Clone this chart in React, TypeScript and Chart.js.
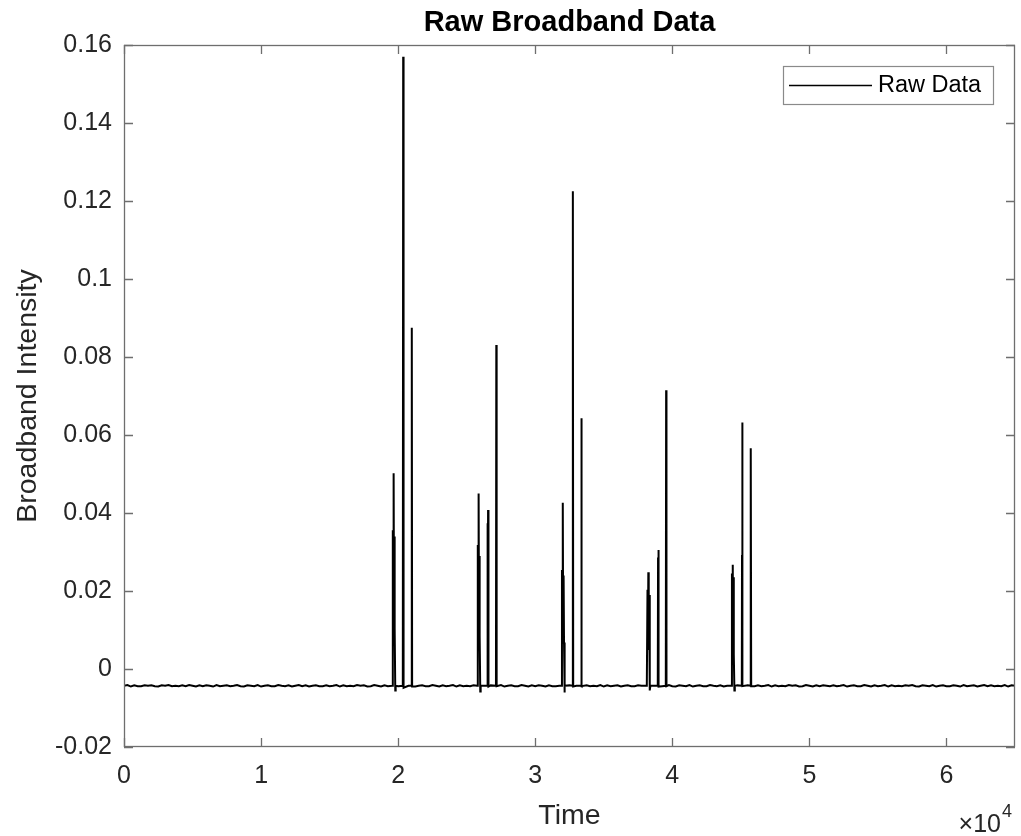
import React, { useEffect, useRef } from "react";
import { Chart, registerables } from "chart.js";

Chart.register(...registerables);

// ---- Data ----
const seriesLabel = "Raw Data";
const chartTitle = "Raw Broadband Data";
const xAxisTitle = "Time";
const yAxisTitle = "Broadband Intensity";

// baseline samples every 250 time units, from 0 to 65000
const baselineStep = 250;
const baselineValues = [
  -0.0043, -0.0041, -0.0045, -0.0042, -0.0044, -0.0044, -0.0042, -0.0043, -0.0042, -0.0044,
  -0.0045, -0.0042, -0.0043, -0.0041, -0.0044, -0.0043, -0.0044, -0.0042, -0.0044, -0.0041,
  -0.0043, -0.0045, -0.0042, -0.0044, -0.0042, -0.0043, -0.0045, -0.0041, -0.0044, -0.0043,
  -0.0042, -0.0044, -0.0043, -0.0041, -0.0044, -0.0045, -0.0042, -0.0043, -0.0044, -0.0041,
  -0.0045, -0.0043, -0.0042, -0.0044, -0.0044, -0.0041, -0.0043, -0.0044, -0.0042, -0.0045,
  -0.0043, -0.0041, -0.0044, -0.0042, -0.0045, -0.0043, -0.0042, -0.0044, -0.0044, -0.0042,
  -0.0044, -0.0043, -0.0041, -0.0045, -0.0042, -0.0044, -0.0043, -0.0044, -0.0041, -0.0043,
  -0.0042, -0.0045, -0.0044, -0.0041, -0.0043, -0.0045, -0.0042, -0.0044, -0.0042, -0.0043,
  -0.0044, -0.0042, -0.0044, -0.0043, -0.0041, -0.0045, -0.0043, -0.0042, -0.0044, -0.0044,
  -0.0041, -0.0043, -0.0045, -0.0042, -0.0044, -0.0043, -0.0041, -0.0045, -0.0042, -0.0044,
  -0.0043, -0.0044, -0.0042, -0.0044, -0.0041, -0.0043, -0.0045, -0.0042, -0.0043, -0.0044,
  -0.0041, -0.0045, -0.0043, -0.0042, -0.0044, -0.0044, -0.0041, -0.0043, -0.0045, -0.0042,
  -0.0044, -0.0042, -0.0043, -0.0045, -0.0042, -0.0044, -0.0044, -0.0043, -0.0041, -0.0044,
  -0.0042, -0.0045, -0.0043, -0.0041, -0.0044, -0.0042, -0.0044, -0.0043, -0.0044, -0.0041,
  -0.0045, -0.0042, -0.0044, -0.0043, -0.0042, -0.0045, -0.0043, -0.0042, -0.0044, -0.0044,
  -0.0042, -0.0043, -0.0045, -0.0041, -0.0044, -0.0043, -0.0042, -0.0044, -0.0043, -0.0041,
  -0.0044, -0.0045, -0.0042, -0.0043, -0.0044, -0.0041, -0.0045, -0.0043, -0.0042, -0.0044,
  -0.0044, -0.0041, -0.0043, -0.0044, -0.0042, -0.0045, -0.0043, -0.0041, -0.0044, -0.0042,
  -0.0045, -0.0043, -0.0042, -0.0044, -0.0044, -0.0042, -0.0044, -0.0043, -0.0041, -0.0045,
  -0.0042, -0.0044, -0.0043, -0.0044, -0.0041, -0.0043, -0.0042, -0.0045, -0.0044, -0.0041,
  -0.0043, -0.0045, -0.0042, -0.0044, -0.0042, -0.0043, -0.0044, -0.0042, -0.0044, -0.0043,
  -0.0041, -0.0045, -0.0043, -0.0042, -0.0044, -0.0044, -0.0041, -0.0043, -0.0045, -0.0042,
  -0.0044, -0.0043, -0.0041, -0.0045, -0.0042, -0.0044, -0.0043, -0.0044, -0.0042, -0.0043,
  -0.0041, -0.0044, -0.0045, -0.0042, -0.0043, -0.0044, -0.0041, -0.0045, -0.0043, -0.0042,
  -0.0044, -0.0044, -0.0042, -0.0043, -0.0045, -0.0041, -0.0044, -0.0043, -0.0042, -0.0045,
  -0.0043, -0.0041, -0.0044, -0.0042, -0.0044, -0.0043, -0.0044, -0.0041, -0.0045, -0.0042,
  -0.0043,
];

// spike samples (time, intensity)
const spikeTimes = [
  // cluster 1
  19560, 19610, 19640, 19670, 19700, 19730, 19760, 19790, 19820,
  20340, 20367, 20395,
  20970, 20995, 21020,
  // cluster 2
  25760, 25810, 25840, 25870, 25900, 25930, 25960, 25990, 26020,
  26490, 26520, 26535, 26560, 26590,
  27135, 27160, 27185,
  // cluster 3
  31900, 31950, 31980, 32010, 32040, 32070, 32100, 32130, 32160,
  32720, 32745, 32770,
  33340, 33360, 33375, 33400,
  // cluster 4
  38140, 38190, 38220, 38250, 38280, 38310, 38340, 38370, 38400,
  38940, 38960, 38985, 39010,
  39525, 39550, 39575,
  // cluster 5
  44300, 44350, 44380, 44410, 44440, 44470, 44500, 44530, 44560,
  45070, 45085, 45100, 45125,
  45700, 45715, 45730, 45755,
];
const spikeValues = [
  // cluster 1
  -0.0043, 0.0356, 0.0100, 0.0502, 0.0110, 0.0340, 0.0105, -0.0055, -0.0043,
  -0.0043, 0.1570, -0.0048,
  -0.0043, 0.0875, -0.0045,
  // cluster 2
  -0.0043, 0.0318, 0.0083, 0.0450, 0.0090, 0.0290, 0.0085, -0.0058, -0.0043,
  -0.0043, 0.0374, -0.0040, 0.0408, -0.0045,
  -0.0043, 0.0831, -0.0044,
  // cluster 3
  -0.0043, 0.0254, 0.0067, 0.0426, 0.0070, 0.0240, 0.0068, -0.0060, -0.0043,
  -0.0043, 0.1225, -0.0045,
  -0.0043, 0.0505, 0.0643, -0.0044,
  // cluster 4
  -0.0043, 0.0203, 0.0049, 0.0248, 0.0060, 0.0190, 0.0052, -0.0055, -0.0043,
  -0.0043, 0.0286, 0.0305, -0.0045,
  -0.0043, 0.0715, -0.0044,
  // cluster 5
  -0.0043, 0.0245, 0.0036, 0.0267, 0.0040, 0.0235, 0.0038, -0.0055, -0.0043,
  -0.0043, 0.0292, 0.0632, -0.0044,
  -0.0043, 0.0203, 0.0566, -0.0044,
];

const xMin = 0;
const xMax = 65000;
const yMin = -0.02;
const yMax = 0.16;
const xTickValues = [0, 10000, 20000, 30000, 40000, 50000, 60000];
const yTickValues = [-0.02, 0, 0.02, 0.04, 0.06, 0.08, 0.1, 0.12, 0.14, 0.16];
const xExponentBase = "\u00d710";
const xExponent = "4";
const xScaleFactor = 10000;

const FONT = '"Liberation Sans", Arial, Helvetica, sans-serif';
const TEXT_COLOR = "#262626";
const AXIS_COLOR = "#6e6e6e";

function buildPoints() {
  const spikePts = spikeTimes.map((t, i) => ({ x: t, y: spikeValues[i] }));
  const basePts = baselineValues
    .map((v, i) => ({ x: i * baselineStep, y: v }))
    .filter((p) => !spikeTimes.some((t) => Math.abs(t - p.x) < 150));
  return [...basePts, ...spikePts].sort((a, b) => a.x - b.x);
}

const matlabDecor = {
  id: "matlabDecor",
  afterDraw(chart: any) {
    const ctx = chart.ctx;
    const area = chart.chartArea;
    const xs = chart.scales.x;
    const ys = chart.scales.y;
    const tickLen = 9;
    ctx.save();

    // box
    ctx.strokeStyle = AXIS_COLOR;
    ctx.lineWidth = 1.3;
    ctx.strokeRect(area.left + 0.5, area.top + 0.5, area.right - area.left - 1, area.bottom - area.top - 1);

    // inward ticks
    ctx.beginPath();
    xs.ticks.forEach((t: any) => {
      const px = Math.round(xs.getPixelForValue(t.value)) + 0.5;
      ctx.moveTo(px, area.bottom);
      ctx.lineTo(px, area.bottom - tickLen);
      ctx.moveTo(px, area.top);
      ctx.lineTo(px, area.top + tickLen);
    });
    ys.ticks.forEach((t: any) => {
      const py = Math.round(ys.getPixelForValue(t.value)) + 0.5;
      ctx.moveTo(area.left, py);
      ctx.lineTo(area.left + tickLen, py);
      ctx.moveTo(area.right, py);
      ctx.lineTo(area.right - tickLen, py);
    });
    ctx.stroke();

    // title
    const cx = (area.left + area.right) / 2;
    ctx.fillStyle = "#000";
    ctx.font = `bold 29px ${FONT}`;
    ctx.textAlign = "center";
    ctx.textBaseline = "middle";
    ctx.fillText(chartTitle, cx, 23);

    // axis titles
    ctx.fillStyle = TEXT_COLOR;
    ctx.font = `28.5px ${FONT}`;
    ctx.fillText(xAxisTitle, cx, 816);
    ctx.save();
    ctx.translate(28, (area.top + area.bottom) / 2);
    ctx.rotate(-Math.PI / 2);
    ctx.fillText(yAxisTitle, 0, 0);
    ctx.restore();

    // exponent label
    ctx.font = `25px ${FONT}`;
    ctx.textAlign = "right";
    ctx.textBaseline = "alphabetic";
    ctx.fillText(xExponentBase, 1001, 832);
    ctx.font = `18px ${FONT}`;
    ctx.textAlign = "left";
    ctx.fillText(xExponent, 1002, 817);

    // legend
    const lw = 210;
    const lh = 38;
    const lx = area.right - 22 - lw;
    const ly = area.top + 21;
    ctx.fillStyle = "#fff";
    ctx.fillRect(lx, ly, lw, lh);
    ctx.strokeStyle = "#8a8a8a";
    ctx.lineWidth = 1.2;
    ctx.strokeRect(lx + 0.5, ly + 0.5, lw, lh);
    ctx.strokeStyle = "#000";
    ctx.lineWidth = 1.5;
    ctx.beginPath();
    ctx.moveTo(lx + 6, ly + 19.5);
    ctx.lineTo(lx + 89, ly + 19.5);
    ctx.stroke();
    ctx.fillStyle = "#000";
    ctx.font = `23.5px ${FONT}`;
    ctx.textAlign = "left";
    ctx.textBaseline = "middle";
    ctx.fillText(chart.data.datasets[0].label, lx + 95, ly + 20);

    ctx.restore();
  },
};

export default function App() {
  const ref = useRef<HTMLCanvasElement | null>(null);
  useEffect(() => {
    if (!ref.current) return;
    const chart = new Chart(ref.current, {
      type: "line",
      data: {
        datasets: [
          {
            label: seriesLabel,
            data: buildPoints(),
            borderColor: "#000",
            borderWidth: 2,
            pointRadius: 0,
            tension: 0,
            fill: false,
          },
        ],
      },
      options: {
        animation: false,
        responsive: false,
        devicePixelRatio: 1,
        layout: { padding: { top: 45, right: 6, left: 0, bottom: 0 } },
        plugins: {
          legend: { display: false },
          tooltip: { enabled: false },
          title: { display: false },
        },
        scales: {
          x: {
            type: "linear",
            min: xMin,
            max: xMax,
            grid: { display: false, drawTicks: false },
            border: { display: false },
            afterBuildTicks: (scale: any) => {
              scale.ticks = xTickValues.map((v) => ({ value: v }));
            },
            afterFit: (scale: any) => {
              scale.height = 89;
            },
            ticks: {
              padding: 14,
              color: TEXT_COLOR,
              font: { family: FONT, size: 25 },
              maxRotation: 0,
              autoSkip: false,
              callback: (v: any) => String(Number(v) / xScaleFactor),
            },
          },
          y: {
            type: "linear",
            min: yMin,
            max: yMax,
            grid: { display: false, drawTicks: false },
            border: { display: false },
            afterBuildTicks: (scale: any) => {
              scale.ticks = yTickValues.map((v) => ({ value: v }));
            },
            afterFit: (scale: any) => {
              scale.width = 124;
            },
            ticks: {
              padding: 12,
              color: TEXT_COLOR,
              font: { family: FONT, size: 25 },
              autoSkip: false,
              callback: (v: any) => String(Math.round(Number(v) * 100) / 100),
            },
          },
        },
      },
      plugins: [matlabDecor],
    });
    return () => chart.destroy();
  }, []);
  return (
    <div style={{ position: "absolute", left: 0, top: 0, width: 1021, height: 836, background: "#fff" }}>
      <canvas ref={ref} width={1021} height={836} />
    </div>
  );
}
